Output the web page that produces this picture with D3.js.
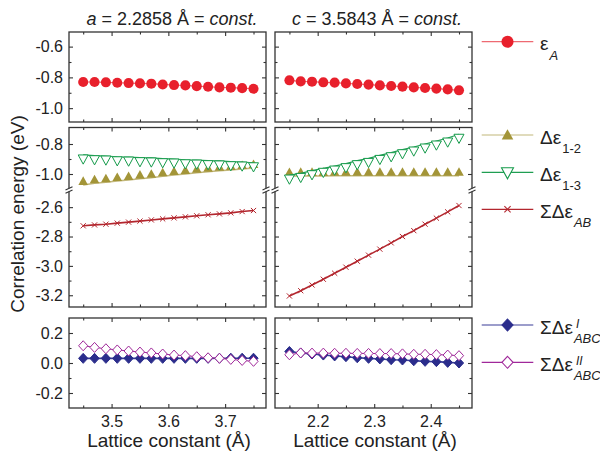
<!DOCTYPE html>
<html>
<head>
<meta charset="utf-8">
<script src="https://cdn.jsdelivr.net/npm/d3@7"></script>
<style>
body { margin: 0; background: #fff; }
text { font-family: "Liberation Sans", Arial, sans-serif; fill: #222; }
.tick text { font-size: 16px; }
</style>
</head>
<body>
<div id="chart"></div>
<script>
// x values: c varies on the left (a fixed), a varies on the right (c fixed)
var cLattice = [3.45, 3.47, 3.49, 3.51, 3.53, 3.55, 3.57, 3.59, 3.61, 3.63, 3.65, 3.67, 3.69, 3.71, 3.73, 3.75];
var aLattice = [2.15, 2.17, 2.19, 2.21, 2.23, 2.25, 2.27, 2.29, 2.31, 2.33, 2.35, 2.37, 2.39, 2.41, 2.43, 2.45];

// eps_A
var epsA_c = [-0.830, -0.830, -0.832, -0.835, -0.837, -0.839, -0.841, -0.846, -0.850, -0.852, -0.857, -0.861, -0.865, -0.867, -0.870, -0.874];
var epsA_a = [-0.819, -0.826, -0.828, -0.832, -0.834, -0.839, -0.843, -0.847, -0.852, -0.856, -0.860, -0.865, -0.869, -0.873, -0.878, -0.884];

// delta eps 1-2 and 1-3
var de12_c = [-1.073, -1.062, -1.055, -1.047, -1.040, -1.031, -1.025, -1.015, -1.007, -1.000, -0.991, -0.985, -0.978, -0.973, -0.967, -0.960];
var de12_a = [-1.014, -1.013, -1.013, -1.013, -1.012, -1.012, -1.012, -1.012, -1.012, -1.012, -1.012, -1.012, -1.012, -1.012, -1.012, -1.012];
var de13_c = [-0.873, -0.878, -0.880, -0.885, -0.887, -0.891, -0.893, -0.898, -0.900, -0.905, -0.907, -0.911, -0.913, -0.918, -0.920, -0.925];
var de13_a = [-1.007, -0.996, -0.978, -0.962, -0.947, -0.931, -0.911, -0.896, -0.876, -0.858, -0.838, -0.820, -0.800, -0.780, -0.760, -0.735];

// sum delta eps AB
var sumAB_c = [-2.727, -2.721, -2.716, -2.709, -2.702, -2.695, -2.687, -2.680, -2.673, -2.666, -2.659, -2.652, -2.646, -2.639, -2.630, -2.623];
var sumAB_a = [-3.205, -3.169, -3.130, -3.091, -3.050, -3.009, -2.968, -2.927, -2.886, -2.843, -2.800, -2.760, -2.716, -2.675, -2.632, -2.589];

// three-body terms
var abcI_c = [0.031, 0.031, 0.031, 0.031, 0.031, 0.031, 0.031, 0.031, 0.031, 0.031, 0.031, 0.031, 0.032, 0.032, 0.032, 0.032];
var abcII_c = [0.115, 0.104, 0.095, 0.087, 0.080, 0.073, 0.067, 0.060, 0.053, 0.049, 0.042, 0.035, 0.031, 0.024, 0.017, 0.011];
var abcI_a = [0.077, 0.067, 0.060, 0.053, 0.047, 0.042, 0.035, 0.031, 0.027, 0.022, 0.020, 0.015, 0.011, 0.009, 0.004, 0.000];
var abcII_a = [0.055, 0.067, 0.066, 0.066, 0.065, 0.065, 0.064, 0.064, 0.063, 0.063, 0.061, 0.058, 0.058, 0.056, 0.053, 0.049];

// tick values
var xMajor_c = [3.5, 3.6, 3.7], xMinor_c = [3.45, 3.55, 3.65, 3.75];
var xMajor_a = [2.2, 2.3, 2.4], xMinor_a = [2.15, 2.25, 2.35, 2.45];
var yTopMajor = [-1.0, -0.8, -0.6], yTopMinor = [-0.9, -0.7];
var yUpMajor = [-1.0, -0.8], yUpMinor = [-0.9];
var yLowMajor = [-3.2, -3.0, -2.8, -2.6], yLowMinor = [-3.1, -2.9, -2.7];
var yBotMajor = [-0.2, 0.0, 0.2], yBotMinor = [-0.1, 0.1];

var svg = d3.select("#chart").append("svg")
    .attr("width", 600)
    .attr("height", 455);

// scales
var xC = d3.scaleLinear().domain([3.425, 3.772]).range([69, 266]);
var xA = d3.scaleLinear().domain([2.1245, 2.473]).range([275, 472]);
var yTop = d3.scaleLinear().domain([-1.09, -0.505]).range([122, 32]);
var yUp = d3.scaleLinear().domain([-1.1, -0.69]).range([189, 127.5]);
var yLow = d3.scaleLinear().domain([-3.28, -2.49]).range([307, 191]);
var yBot = d3.scaleLinear().domain([-0.3, 0.3]).range([408, 318]);

var fmt = function (d) { return d.toFixed(1); };

function axis(gen, tr, vals, size, labels) {
    var g = svg.append("g").attr("transform", tr)
        .call(gen.tickValues(vals).tickSizeInner(-size).tickSizeOuter(0)
            .tickPadding(labels ? 6 : 0).tickFormat(labels ? fmt : ""));
    g.select(".domain").remove();
    g.attr("font-size", null).attr("font-family", null);
    g.selectAll("line").attr("stroke", "#333").attr("stroke-width", 1.1);
    return g;
}

function yTicks(y, x0, x1, major, minor, labels) {
    axis(d3.axisLeft(y), "translate(" + x0 + ",0)", major, 4, labels);
    axis(d3.axisLeft(y), "translate(" + x0 + ",0)", minor, 2.5, false);
    axis(d3.axisRight(y), "translate(" + x1 + ",0)", major, 4, false);
    axis(d3.axisRight(y), "translate(" + x1 + ",0)", minor, 2.5, false);
}

function xTicks(x, y0, y1, major, minor, labels) {
    axis(d3.axisTop(x), "translate(0," + y0 + ")", major, 4, false);
    axis(d3.axisTop(x), "translate(0," + y0 + ")", minor, 2.5, false);
    var b = axis(d3.axisBottom(x), "translate(0," + y1 + ")", major, 4, labels);
    if (labels) b.selectAll("text").attr("y", 7.5);
    axis(d3.axisBottom(x), "translate(0," + y1 + ")", minor, 2.5, false);
}

function frame(x, y0, y1) {
    var r = x.range();
    svg.append("rect")
        .attr("x", r[0]).attr("y", y0)
        .attr("width", r[1] - r[0]).attr("height", y1 - y0)
        .attr("fill", "none").attr("stroke", "#333").attr("stroke-width", 1.3);
}

// panel frames and ticks
[[xC, xMajor_c, xMinor_c, true], [xA, xMajor_a, xMinor_a, false]].forEach(function (c) {
    var x = c[0], r = x.range();
    frame(x, 32, 122);
    frame(x, 127.5, 307);
    frame(x, 318, 408);
    yTicks(yTop, r[0], r[1], yTopMajor, yTopMinor, c[3]);
    yTicks(yUp, r[0], r[1], yUpMajor, yUpMinor, c[3]);
    yTicks(yLow, r[0], r[1], yLowMajor, yLowMinor, c[3]);
    yTicks(yBot, r[0], r[1], yBotMajor, yBotMinor, c[3]);
    xTicks(x, 32, 122, c[1], c[2], false);
    xTicks(x, 127.5, 307, c[1], c[2], false);
    xTicks(x, 318, 408, c[1], c[2], true);

    // axis breaks in the middle panel
    r.forEach(function (px) {
        svg.append("rect").attr("x", px - 4).attr("y", 188.4)
            .attr("width", 8).attr("height", 3.2).attr("fill", "#fff");
        [188.4, 191.6].forEach(function (by) {
            svg.append("line")
                .attr("x1", px - 3.5).attr("y1", by + 1.6)
                .attr("x2", px + 3.5).attr("y2", by - 1.6)
                .attr("stroke", "#333").attr("stroke-width", 1.1);
        });
    });
});

// marker shapes
var shapes = {
    circle: d3.symbol(d3.symbolCircle, 80)(),
    up: "M-4.8,0L4.8,0L0,-8.6Z",
    down: "M-5,0L5,0L0,9.2Z",
    diamond: "M0,-5L4.6,0L0,5L-4.6,0Z",
    cross: "M-2.6,-2.6L2.6,2.6M-2.6,2.6L2.6,-2.6"
};

var styles = {
    epsA: { shape: "circle", fill: "#e8202c", stroke: "none", line: "#ee6a72", lw: 1.2 },
    de12: { shape: "up", fill: "#a39538", stroke: "none", line: "#c2b77a", lw: 1.5 },
    de13: { shape: "down", fill: "#fff", stroke: "#149a4a", line: "#1f9e52", lw: 1.2 },
    sumAB: { shape: "cross", fill: "none", stroke: "#b3262e", line: "#b3262e", lw: 1.6 },
    abcI: { shape: "diamond", fill: "#2b2d8c", stroke: "#2b2d8c", line: "#3a3d98", lw: 1.6 },
    abcII: { shape: "diamond", fill: "#fff", stroke: "#a0289a", line: "#a0289a", lw: 1 }
};

function series(x, y, xs, ys, st) {
    var pts = xs.map(function (v, i) { return [x(v), y(ys[i])]; });
    svg.append("path")
        .attr("d", d3.line()(pts))
        .attr("fill", "none")
        .attr("stroke", st.line)
        .attr("stroke-width", st.lw);
    svg.append("g").selectAll("path")
        .data(pts)
        .enter().append("path")
        .attr("transform", function (p) { return "translate(" + p[0] + "," + p[1] + ")"; })
        .attr("d", shapes[st.shape])
        .attr("fill", st.fill)
        .attr("stroke", st.stroke)
        .attr("stroke-width", 1);
}

series(xC, yTop, cLattice, epsA_c, styles.epsA);
series(xA, yTop, aLattice, epsA_a, styles.epsA);
series(xC, yUp, cLattice, de12_c, styles.de12);
series(xA, yUp, aLattice, de12_a, styles.de12);
series(xC, yUp, cLattice, de13_c, styles.de13);
series(xA, yUp, aLattice, de13_a, styles.de13);
series(xC, yLow, cLattice, sumAB_c, styles.sumAB);
series(xA, yLow, aLattice, sumAB_a, styles.sumAB);
series(xC, yBot, cLattice, abcI_c, styles.abcI);
series(xA, yBot, aLattice, abcI_a, styles.abcI);
series(xC, yBot, cLattice, abcII_c, styles.abcII);
series(xA, yBot, aLattice, abcII_a, styles.abcII);

// titles
function title(cx, v, num) {
    var t = svg.append("text")
        .attr("x", cx).attr("y", 24.5)
        .attr("text-anchor", "middle")
        .attr("font-size", 18);
    t.append("tspan").attr("font-style", "italic").text(v);
    t.append("tspan").text(" = " + num + " Å = ");
    t.append("tspan").attr("font-style", "italic").text("const.");
}
title(172, "a", "2.2858");
title(377, "c", "3.5843");

// axis labels
svg.append("text")
    .attr("transform", "translate(24,214) rotate(-90)")
    .attr("text-anchor", "middle")
    .attr("font-size", 19)
    .text("Correlation energy (eV)");
[xC, xA].forEach(function (x) {
    var r = x.range();
    svg.append("text")
        .attr("x", (r[0] + r[1]) / 2 + 1.5).attr("y", 447)
        .attr("text-anchor", "middle")
        .attr("font-size", 19)
        .text("Lattice constant (Å)");
});

// legend
var legend = [
    { key: "epsA", y: 41.7, main: "ε", sub: "A", subItalic: true },
    { key: "de12", y: 135, main: "Δε", sub: "1-2", subItalic: false },
    { key: "de13", y: 172.3, main: "Δε", sub: "1-3", subItalic: false },
    { key: "sumAB", y: 209.3, main: "ΣΔε", sub: "AB", subItalic: true },
    { key: "abcI", y: 325, main: "ΣΔε", sub: "ABC", sup: "I", subItalic: true },
    { key: "abcII", y: 362.3, main: "ΣΔε", sub: "ABC", sup: "II", subItalic: true }
];

legend.forEach(function (d) {
    var st = styles[d.key];
    svg.append("line")
        .attr("x1", 481.7).attr("x2", 533.3)
        .attr("y1", d.y).attr("y2", d.y)
        .attr("stroke", st.line).attr("stroke-width", 1.2);
    var off = d.key === "de12" ? 4.5 : (d.key === "de13" ? -4.5 : 0);
    svg.append("path")
        .attr("transform", "translate(507.5," + (d.y + off) + ") scale(1.2)")
        .attr("d", shapes[st.shape])
        .attr("fill", st.fill)
        .attr("stroke", st.stroke)
        .attr("stroke-width", 0.9);
    var m = svg.append("text")
        .attr("x", 540).attr("y", d.y + 8.5)
        .attr("font-size", 19)
        .text(d.main);
    var w = m.node().getComputedTextLength();
    svg.append("text")
        .attr("x", 541 + w).attr("y", d.y + 18)
        .attr("font-size", 13)
        .attr("font-style", d.subItalic ? "italic" : null)
        .text(d.sub);
    if (d.sup) {
        svg.append("text")
            .attr("x", 543 + w).attr("y", d.y + 2.5)
            .attr("font-size", 12)
            .attr("font-style", "italic")
            .text(d.sup);
    }
});
</script>
</body>
</html>
